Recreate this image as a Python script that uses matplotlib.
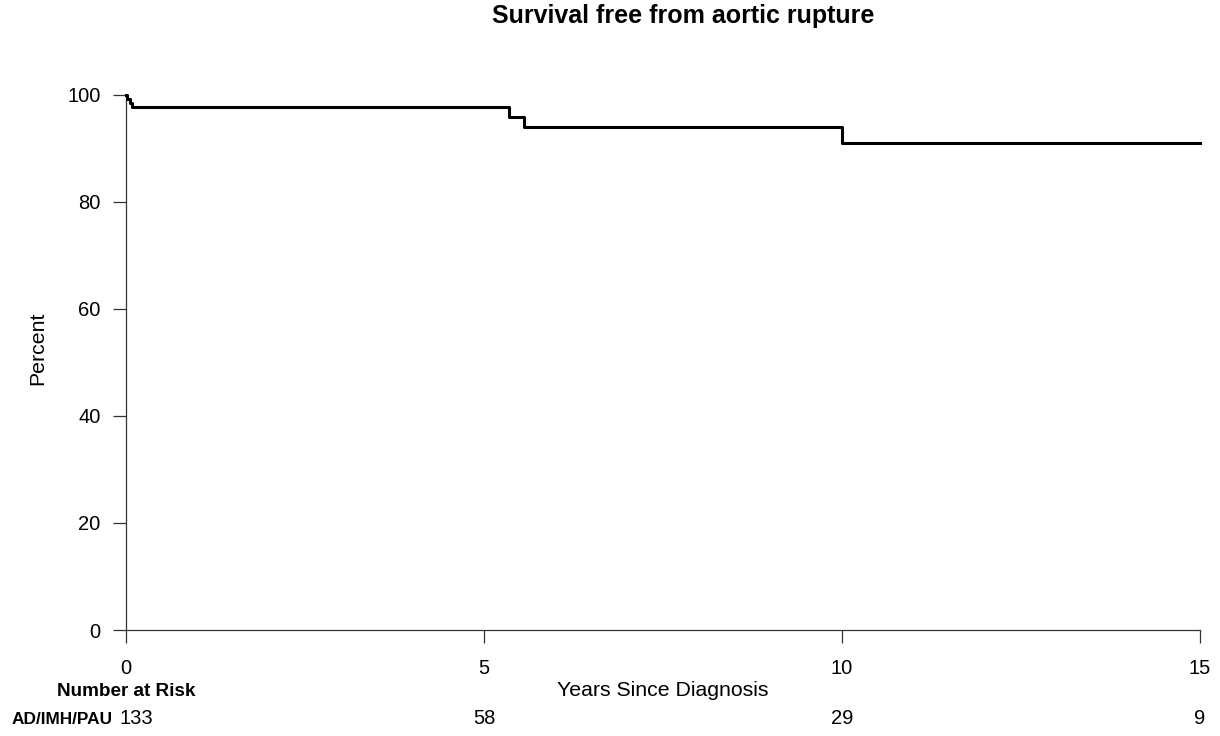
import matplotlib.pyplot as plt

# Kaplan-Meier estimate
time = [0, 0.01, 0.05, 0.09, 5.35, 5.56, 10.0, 15]
surv = [100, 99.2, 98.5, 97.7, 95.9, 94.1, 91.0, 91.0]

risk_times = [0, 5, 10, 15]
risk_counts = [133, 58, 29, 9]
group = 'AD/IMH/PAU'

plt.rcParams['font.family'] = ['Liberation Sans', 'DejaVu Sans']

W, H = 1220, 736
fig = plt.figure(figsize=(W / 100, H / 100), dpi=100)
ax = fig.add_axes([126 / W, 1 - 630 / H, (1200 - 126) / W, (630 - 95) / H])

ax.plot(time, surv, color='black', linewidth=2.2, drawstyle='steps-post',
        clip_on=False, zorder=3)

ax.set_xlim(0, 15)
ax.set_ylim(0, 100)
ax.set_xticks(risk_times)
ax.set_yticks(range(0, 101, 20))
ax.spines['top'].set_visible(False)
ax.spines['right'].set_visible(False)
for s in ('left', 'bottom'):
    ax.spines[s].set_linewidth(0.9)
    ax.spines[s].set_color('#333333')
ax.tick_params(direction='out', length=9.4, width=0.9, color='#333333',
               labelsize=14.5)
ax.tick_params(axis='y', pad=9)
ax.tick_params(axis='x', pad=11.5)

# titles / labels (pixel positions from the top-left)
fig.text(683 / W, 1 - 16 / H, 'Survival free from aortic rupture', ha='center', va='center',
         fontsize=18, fontweight='bold')
fig.text(38 / W, 1 - 348 / H, 'Percent', rotation=90, ha='center', va='center', fontsize=15.3)
fig.text(663 / W, 1 - 691 / H, 'Years Since Diagnosis', ha='center', va='center', fontsize=15.3)

# number at risk table
tr = ax.get_xaxis_transform()
y_head = -(691 - 630) / (630 - 95)
y_row = -(719 - 630) / (630 - 95)
ax.text(0, y_head, 'Number at Risk', transform=tr, ha='center', va='center',
        fontsize=13.6, fontweight='bold')
ax.text(-0.19, y_row, group, transform=tr, ha='right', va='center',
        fontsize=12.4, fontweight='bold')
for t, n in zip(risk_times, risk_counts):
    xt = t + 0.14 if t == 0 else t
    ax.text(xt, y_row, str(n), transform=tr, ha='center', va='center', fontsize=14.5)

fig.savefig('out.png')
